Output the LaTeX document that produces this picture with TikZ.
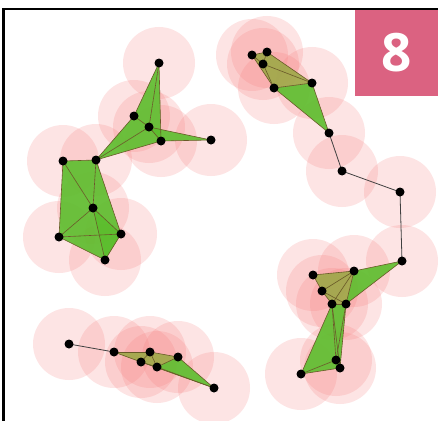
\documentclass[tikz,border=0pt]{standalone}
\usepackage{fontspec}
\newfontfamily\badgefont{Open Sans}
\usepackage{tikz}
\usetikzlibrary{positioning}
\definecolor{ballpink}{RGB}{245,120,120}
\definecolor{simpgreen}{RGB}{92,190,45}
\definecolor{simpolive}{RGB}{158,168,72}
\definecolor{simpedge}{RGB}{105,90,40}
\definecolor{badgered}{RGB}{219,98,129}
\tikzstyle{ball} = [fill=ballpink,fill opacity=0.2]
\tikzstyle{tri} = [fill=simpgreen,fill opacity=0.9]
\tikzstyle{tet} = [fill=simpolive,fill opacity=0.9]
\tikzstyle{edge} = [draw=simpedge,line width=0.6pt]
\tikzstyle{chain} = [draw=black!75,line width=0.8pt]
\tikzstyle{dot} = [circle,fill=black,inner sep=0pt,minimum size=9pt]

\begin{document}
\begin{tikzpicture}[x=1pt,y=-1pt]
\useasboundingbox (0,0) rectangle (438,420);

%Points
\coordinate (a1) at (159,63);
\coordinate (a2) at (134,116);
\coordinate (a3) at (149,127);
\coordinate (a4) at (161,141);
\coordinate (a5) at (211,140);
\coordinate (a6) at (96,160);
\coordinate (a7) at (63,161);
\coordinate (a8) at (93,208);
\coordinate (a9) at (59,237);
\coordinate (a10) at (121,234);
\coordinate (a11) at (105,260);
\coordinate (b1) at (69,344);
\coordinate (b2) at (114,352);
\coordinate (b3) at (150,352);
\coordinate (b4) at (178,357);
\coordinate (b5) at (141,362);
\coordinate (b6) at (157,367);
\coordinate (b7) at (214,388);
\coordinate (c1) at (252,55);
\coordinate (c2) at (267,52);
\coordinate (c3) at (263,64);
\coordinate (c4) at (274,88);
\coordinate (c5) at (312,83);
\coordinate (c6) at (329,133);
\coordinate (c7) at (342,171);
\coordinate (c8) at (400,192);
\coordinate (d1) at (402,261);
\coordinate (d2) at (354,271);
\coordinate (d3) at (313,275);
\coordinate (d4) at (322,291);
\coordinate (d5) at (332,304);
\coordinate (d6) at (346,304);
\coordinate (d7) at (336,360);
\coordinate (d8) at (340,368);
\coordinate (d9) at (301,374);

%Balls
\foreach \p in {a1,a2,a3,a4,a5,a6,a7,a8,a9,a10,a11,b1,b2,b3,b4,b5,b6,b7,
                c1,c2,c3,c4,c5,c6,c7,c8,d1,d2,d3,d4,d5,d6,d7,d8,d9}
  \fill[ball] (\p) circle (36);

%Frame
\draw[line width=2.5pt] (3.5,425) -- (3.5,9) -- (445,9);

%Triangles
\foreach \u/\v/\w in {a1/a2/a3,a1/a3/a4,a2/a3/a6,a3/a4/a6,a3/a4/a5,
                      a7/a6/a8,a7/a8/a9,a6/a8/a10,a8/a9/a10,a9/a10/a11,a8/a10/a11,
                      c4/c5/c6,d1/d2/d6,d5/d6/d7,d6/d7/d8,d5/d7/d9,d7/d8/d9,
                      b5/b6/b7,b4/b6/b7,b2/b5/b7}
  \fill[tri] (\u) -- (\v) -- (\w) -- cycle;
\foreach \u/\v/\w in {c1/c2/c3,c2/c3/c5,c1/c3/c4,c3/c4/c5,
                      d3/d2/d4,d2/d4/d5,d2/d5/d6,
                      b2/b3/b5,b3/b5/b6,b3/b4/b6}
  \fill[tet] (\u) -- (\v) -- (\w) -- cycle;

%Lines
\foreach \u/\v in {a1/a2,a1/a3,a1/a4,a2/a3,a3/a4,a3/a5,a4/a5,a2/a6,a3/a6,a4/a6,
                   a7/a6,a7/a8,a6/a8,a7/a9,a8/a9,a6/a10,a8/a10,a9/a10,a9/a11,a10/a11,a8/a11,
                   c1/c2,c1/c3,c2/c3,c2/c5,c3/c5,c1/c4,c3/c4,c4/c5,c4/c6,c5/c6,
                   d1/d2,d1/d6,d3/d2,d3/d4,d2/d4,d2/d5,d2/d6,d4/d5,d5/d6,d4/d6,
                   d5/d7,d6/d7,d5/d8,d6/d8,d7/d8,d9/d5,d9/d7,d9/d8,
                   b2/b3,b3/b4,b2/b5,b3/b5,b3/b6,b5/b6,b4/b6,b6/b7,b4/b7,b5/b7}
  \draw[edge] (\u) -- (\v);
\draw[chain] (c6) -- (c7) -- (c8) -- (d1);
\draw[chain] (b1) -- (b2);

%Nodes
\foreach \p in {a1,a2,a3,a4,a5,a6,a7,a8,a9,a10,a11,b1,b2,b3,b4,b5,b6,b7,
                c1,c2,c3,c4,c5,c6,c7,c8,d1,d2,d3,d4,d5,d6,d7,d8,d9}
  \node[dot] (n\p) at (\p) {};

%Badge
\fill[badgered] (355,10) rectangle (438,96);
\node[text=white,font=\badgefont\bfseries\fontsize{53}{53}\selectfont] (badge) at (397,53) {8};
\end{tikzpicture}
\end{document}
